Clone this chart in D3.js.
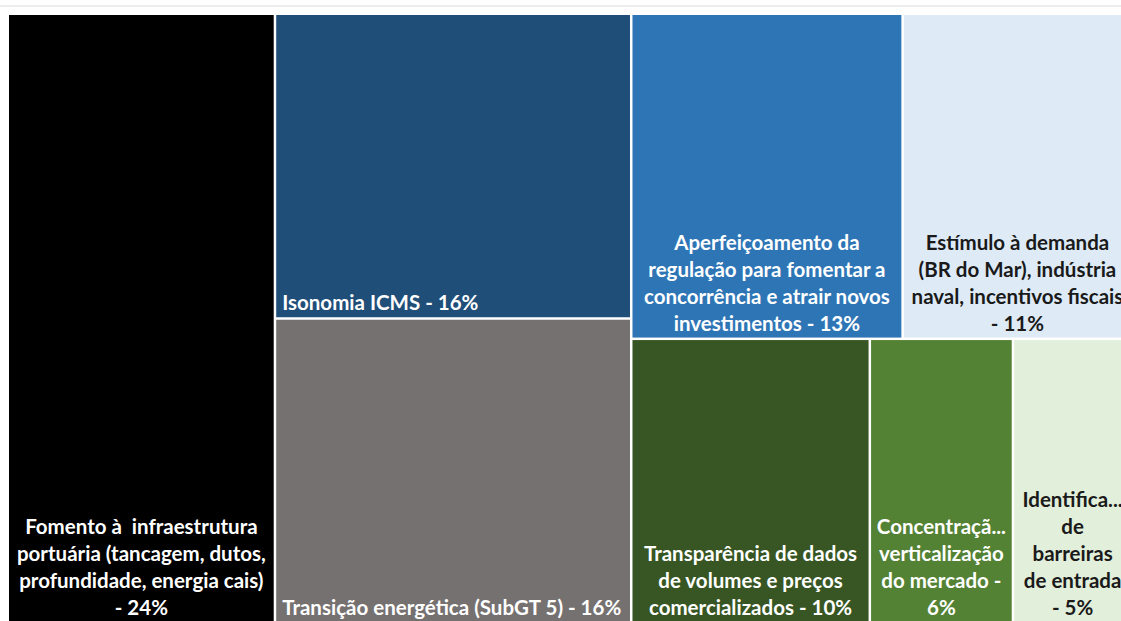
<!DOCTYPE html>
<html>
<head>
<meta charset="utf-8">
<script src="https://cdn.jsdelivr.net/npm/d3@7"></script>
<style>
  body { margin: 0; background: #fff; }
  svg { display: block; }
  .lbl { font-family: Lato, "Open Sans", sans-serif; font-weight: 700; font-size: 20.5px; white-space: pre; }
</style>
</head>
<body>
<svg id="chart"></svg>
<script>
// Data
const labelLines = [
    ["Fomento à  infraestrutura", "portuária (tancagem, dutos,", "profundidade, energia cais)", "- 24%"],
    ["Isonomia ICMS - 16%"],
    ["Transição energética (SubGT 5) - 16%"],
    ["Aperfeiçoamento da", "regulação para fomentar a", "concorrência e atrair novos", "investimentos - 13%"],
    ["Estímulo à demanda", "(BR do Mar), indústria", "naval, incentivos fiscais", "- 11%"],
    ["Transparência de dados", "de volumes e preços", "comercializados - 10%"],
    ["Concentraçã...", "verticalização", "do mercado -", "6%"],
    ["Identifica...", "de", "barreiras", "de entrada", "- 5%"]
];
const values = [24, 16, 16, 13, 11, 10, 6, 5];
const columnIdx = [0, 1, 1, 2, 2, 2, 2, 2];
const rowIdx = [0, 0, 1, 0, 0, 1, 1, 1];
const fills = ["#000000", "#1f4e79", "#767171", "#2e75b6", "#deebf7", "#375623", "#548235", "#e2efda"];
const textColors = ["#fff", "#fff", "#fff", "#fff", "#1a1a1a", "#fff", "#fff", "#1a1a1a"];

const W = 1121, H = 621;
const PLOT = { left: 9, top: 15, width: 1122, height: 607 };
const LINE_H = 27;

const svg = d3.select("#chart").attr("width", W).attr("height", H);

// thin rule at the top
svg.append("rect")
    .attr("x", 0).attr("y", 5)
    .attr("width", W).attr("height", 2)
    .attr("fill", "#ececec");

// build nested structure: columns -> rows -> leaves
const leaves = values.map((v, i) => ({
    lines: labelLines[i], value: v, fill: fills[i], color: textColors[i],
    col: columnIdx[i], row: rowIdx[i]
}));
const nested = {
    children: Array.from(d3.group(leaves, d => d.col, d => d.row), ([c, rows]) => ({
        children: Array.from(rows, ([r, items]) => ({ children: items }))
    }))
};

const root = d3.hierarchy(nested).sum(d => d.value || 0);

d3.treemap()
    .tile(d3.treemapSliceDice)
    .size([PLOT.width, PLOT.height])
    .paddingInner(2.5)(root);

const g = svg.append("g").attr("transform", `translate(${PLOT.left},${PLOT.top})`);

const cell = g.selectAll("g.cell")
    .data(root.leaves())
    .join("g")
    .attr("class", "cell");

cell.append("rect")
    .attr("x", d => d.x0)
    .attr("y", d => d.y0)
    .attr("width", d => d.x1 - d.x0)
    .attr("height", d => d.y1 - d.y0)
    .attr("fill", d => d.data.fill);

cell.each(function(d) {
    const lines = d.data.lines;
    const single = lines.length === 1;
    const x = single ? d.x0 + 6 : (d.x0 + d.x1) / 2;
    const lastY = d.y1 - 7;
    const text = d3.select(this).append("text")
        .attr("class", "lbl")
        .attr("fill", d.data.color)
        .attr("text-anchor", single ? "start" : "middle");
    lines.forEach((line, i) => {
        text.append("tspan")
            .attr("x", x)
            .attr("y", lastY - (lines.length - 1 - i) * LINE_H)
            .text(line);
    });
});
</script>
</body>
</html>
